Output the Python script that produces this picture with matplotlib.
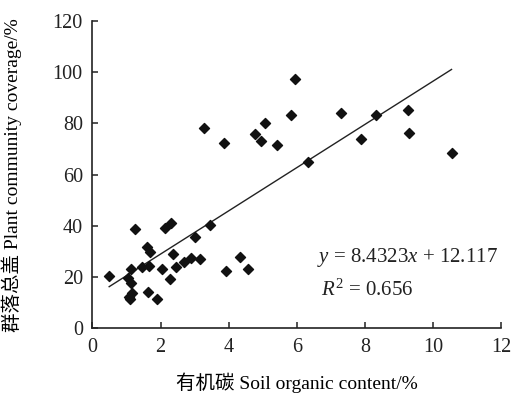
import matplotlib
matplotlib.use("Agg")
import matplotlib.pyplot as plt
import numpy as np

# soil organic carbon (%) vs plant community coverage (%)
soc = [0.49, 1.12, 1.05, 1.12, 1.15, 1.07, 1.10, 1.26, 1.44, 1.65,
       1.60, 1.68, 1.63, 1.91, 2.03, 2.27, 2.12, 2.32, 2.36, 2.46,
       2.70, 2.90, 3.16, 3.00, 3.27, 3.44, 3.85, 3.92, 4.33, 4.58,
       4.77, 4.96, 5.06, 5.43, 5.84, 5.94, 6.33, 7.30, 7.89, 8.32,
       9.27, 9.30, 10.55]
coverage = [20.4, 23.3, 19.5, 17.6, 13.9, 12.3, 11.4, 38.8, 24.1, 24.5,
            31.6, 29.9, 14.1, 11.4, 23.2, 19.3, 39.3, 41.0, 28.9, 24.1,
            26.0, 27.3, 27.2, 35.5, 78.4, 40.2, 72.3, 22.4, 27.7, 23.0,
            75.9, 73.3, 80.1, 71.6, 83.2, 97.3, 64.8, 84.2, 73.8, 83.2,
            85.3, 76.4, 68.4]
slope, intercept = 8.4323, 12.117
xticks = [0, 2, 4, 6, 8, 10, 12]
yticks = [0, 20, 40, 60, 80, 100, 120]

plt.rcParams['font.family'] = ['Liberation Serif', 'Noto Sans CJK SC']
plt.rcParams['mathtext.fontset'] = 'custom'
plt.rcParams['mathtext.rm'] = 'Liberation Serif'
plt.rcParams['mathtext.it'] = 'Liberation Serif:italic'
plt.rcParams['text.color'] = '#222222'

fig = plt.figure(figsize=(5.15, 3.96), dpi=100)
ax = fig.add_axes([0.1796, 0.171, 0.793, 0.776])

ax.scatter(soc, coverage, marker='D', s=26, color='#111111', zorder=3)
xs = np.array([min(soc), max(soc)])
ax.plot(xs, slope * xs + intercept, color='#222222', lw=1.0)

ax.set_xlim(0, 12)
ax.set_ylim(0, 120)
ax.set_xticks(xticks)
ax.set_yticks(yticks)
for s in ['top', 'right']:
    ax.spines[s].set_visible(False)
for s in ['left', 'bottom']:
    ax.spines[s].set_linewidth(1.2)
    ax.spines[s].set_color('#222222')
ax.tick_params(direction='in', length=4, width=1.1, labelsize=14.5,
               colors='#222222', pad=7)

ax.text(6.6, 27.5, r'$y$ = 8.4323$x$ + 12.117', fontsize=15,
        va='center', ha='left')
ax.text(6.7, 15.0, r'$R^2$ = 0.656', fontsize=15, va='center', ha='left')

ax.set_xlabel('有机碳 Soil organic content/%', fontsize=14, labelpad=11)
ax.set_ylabel('群落总盖 Plant community coverage/%', fontsize=14, labelpad=22)

fig.savefig('out.png', dpi=100)
